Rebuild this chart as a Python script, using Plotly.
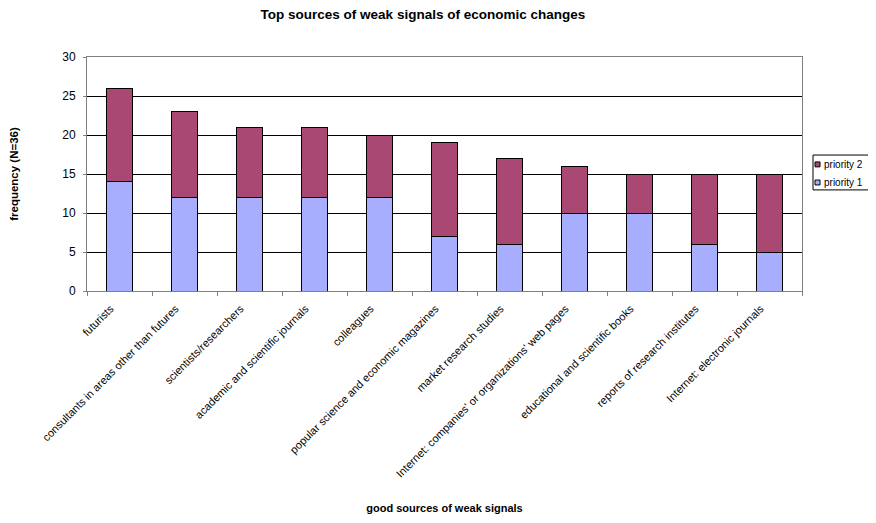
import plotly.graph_objects as go

categories = ["futurists", "consultants in areas other than futures", "scientists/researchers",
              "academic and scientific journals", "colleagues", "popular science and economic magazines",
              "market research studies", "Internet: companies' or organizations' web pages",
              "educational and scientific books", "reports of research institutes",
              "Internet: electronic journals"]
priority1 = [14, 12, 12, 12, 12, 7, 6, 10, 10, 6, 5]
priority2 = [12, 11, 9, 9, 8, 12, 11, 6, 5, 9, 10]
series_names = ["priority 1", "priority 2"]
series_colors = ["#A8AEFE", "#A84873"]
y_ticks = [0, 5, 10, 15, 20, 25, 30]

fig = go.Figure()
for name, vals, col in zip(series_names, [priority1, priority2], series_colors):
    fig.add_trace(go.Bar(x=categories, y=vals, name=name, width=0.41, showlegend=False,
                         marker=dict(color=col, line=dict(color="black", width=1))))

# Legend box (compact Excel-style legend)
fig.add_shape(type="rect", xref="paper", yref="paper", x0=1.0154, x1=1.0979, y0=0.432, y1=0.581,
              line=dict(color="black", width=1), fillcolor="white", layer="above")
row_centers = [0.541, 0.4637]
for i, (name, col) in enumerate(zip(series_names[::-1], series_colors[::-1])):
    yc = row_centers[i]
    fig.add_shape(type="rect", xref="paper", yref="paper", x0=1.0182, x1=1.0252,
                  y0=yc - 0.0105, y1=yc + 0.0105, line=dict(color="black", width=1),
                  fillcolor=col, layer="above")
    fig.add_annotation(text=name, xref="paper", yref="paper", x=1.0276, y=yc,
                       xanchor="left", yanchor="middle", showarrow=False,
                       font=dict(size=10, color="black"))

fig.update_layout(
    barmode="stack",
    width=868, height=507,
    margin=dict(l=79, r=74, t=49, b=224, autoexpand=False),
    paper_bgcolor="white", plot_bgcolor="white",
    font=dict(family="Liberation Sans, Arial, sans-serif", size=11, color="black"),
    title=dict(text="<b>Top sources of weak signals of economic changes</b>",
               x=0.478, xanchor="center", y=0.988, yanchor="middle", font=dict(size=13.5)),
    showlegend=False,
    bargap=0.59,
)
fig.update_xaxes(
    tickangle=-45, tickson="boundaries", ticks="outside", ticklen=4, tickcolor="#808080",
    ticklabelstandoff=6, ticklabelshift=-9,
    showline=True, linecolor="#808080", linewidth=1, mirror=True,
    title=dict(text="<b>good sources of weak signals</b>", font=dict(size=11), standoff=25),
    tickfont=dict(size=11),
)
fig.update_yaxes(
    range=[0, 30], tickvals=y_ticks, ticks="outside", ticklen=3, tickcolor="#808080",
    ticklabelstandoff=5,
    showline=True, linecolor="#808080", linewidth=1, mirror=True,
    showgrid=True, gridcolor="black", gridwidth=1,
    title=dict(text="<b>frequency (N=36)</b>", font=dict(size=11.5), standoff=42),
    tickfont=dict(size=12),
)
fig.write_html("out.html")
